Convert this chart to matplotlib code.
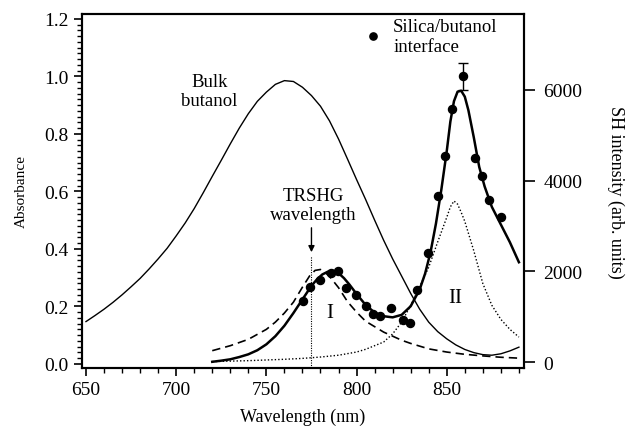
import numpy as np
import matplotlib
matplotlib.use("Agg")
import matplotlib.pyplot as plt
from matplotlib.ticker import MultipleLocator

plt.rcParams['font.family'] = ['Liberation Serif', 'DejaVu Serif']

# bulk butanol absorbance (left axis)
bulk_wl = [650, 655, 660, 665, 670, 675, 680, 685, 690, 695, 700, 705, 710, 715, 720,
           725, 730, 735, 740, 745, 750, 755, 760, 765, 770, 775, 780, 785, 790, 795,
           800, 805, 810, 815, 820, 825, 830, 835, 840, 845, 850, 855, 860, 865, 870,
           875, 880, 885, 890]
bulk_abs = [0.147, 0.168, 0.19, 0.214, 0.24, 0.268, 0.297, 0.33, 0.365, 0.402, 0.445,
            0.49, 0.54, 0.595, 0.652, 0.708, 0.765, 0.82, 0.87, 0.913, 0.945, 0.972,
            0.985, 0.982, 0.962, 0.933, 0.896, 0.845, 0.782, 0.712, 0.641, 0.572, 0.50,
            0.43, 0.365, 0.305, 0.245, 0.19, 0.145, 0.112, 0.087, 0.066, 0.05, 0.039,
            0.032, 0.03, 0.035, 0.045, 0.058]

# SH data points (right axis)
sh_wl = [770.3, 774.3, 779.8, 786.0, 789.7, 794.0, 799.5, 805.4, 809.3, 813.0, 818.9,
         825.5, 829.6, 833.3, 839.4, 845.0, 849.2, 852.7, 859.2, 865.6, 869.7, 873.6,
         879.9]
sh_val = [1340, 1660, 1810, 1970, 2010, 1630, 1480, 1235, 1058, 1021, 1183, 933, 860,
          1595, 2403, 3668, 4550, 5579, 6300, 4492, 4109, 3572, 3190]
err_wl = [859.2]
err_val = [6300]
err_size = [295]

# total fit
fit_wl = [720, 725, 730, 735, 740, 745, 750, 755, 760, 765, 770, 775, 778, 781, 784,
          787, 790, 793, 796, 800, 805, 810, 815, 820, 825, 830, 835, 838, 841, 844,
          847, 850, 852, 854, 856, 858, 860, 862, 865, 868, 871, 875, 880, 885, 890]
fit_val = [5, 30, 60, 110, 170, 260, 390, 570, 800, 1080, 1380, 1680, 1820, 1930,
           1990, 2010, 1960, 1850, 1710, 1500, 1260, 1090, 1010, 985, 1040, 1230, 1600,
           1950, 2420, 3050, 3800, 4650, 5300, 5750, 5960, 5980, 5850, 5550, 4950,
           4300, 3870, 3420, 3030, 2640, 2200]

# component I (dashed)
c1_wl = [720, 730, 740, 750, 755, 760, 765, 770, 774, 777, 780, 783, 786, 790, 795,
         800, 805, 810, 815, 820, 825, 830, 840, 850, 860, 870, 880, 890]
c1_val = [250, 360, 500, 720, 880, 1080, 1320, 1650, 1900, 2020, 2040, 1960, 1840,
          1640, 1330, 1100, 900, 780, 660, 570, 480, 410, 290, 220, 170, 135, 105, 85]

# component II (dotted)
c2_wl = [720, 730, 740, 750, 760, 770, 775, 780, 790, 800, 805, 810, 815, 820, 825,
         830, 835, 840, 845, 850, 852, 854, 856, 858, 860, 865, 870, 875, 880, 885,
         890]
c2_val = [10, 20, 30, 45, 60, 80, 95, 110, 150, 220, 280, 360, 440, 620, 880, 1250,
          1660, 2090, 2650, 3190, 3420, 3550, 3480, 3300, 3100, 2450, 1730, 1250, 940,
          720, 550]

trshg = 775

fig = plt.figure(figsize=(6.26, 4.35), dpi=100)
ax = fig.add_axes([0.131, 0.1517, 0.706, 0.814])
ax2 = ax.twinx()

ax.plot(bulk_wl, bulk_abs, color="black", linewidth=1.0)
ax2.plot(fit_wl, fit_val, color="black", linewidth=1.8)
ax2.plot(c1_wl, c1_val, color="black", linewidth=1.2, linestyle=(0, (5, 3)))
ax2.plot(c2_wl, c2_val, color="black", linewidth=1.0, linestyle=(0, (1, 1.5)))
pts, = ax2.plot(sh_wl, sh_val, "o", color="black", markersize=5.8,
                label="Silica/butanol\ninterface")
ax2.errorbar(err_wl, err_val, yerr=err_size, fmt="none", ecolor="black",
             elinewidth=1.0, capsize=3.5, capthick=1.0)

# TRSHG marker
ax2.plot([trshg, trshg], [-132, 2330], color="black", linewidth=0.8,
         linestyle=(0, (1, 1.2)))
ax2.annotate("", xy=(trshg, 2360), xytext=(trshg, 3020),
             arrowprops=dict(arrowstyle="-|>", color="black", lw=1.0,
                             mutation_scale=9))

ax.text(718.5, 0.95, "Bulk\nbutanol", ha="center", va="center", fontsize=13.5,
        linespacing=1.15)
ax.text(776, 0.553, "TRSHG\nwavelength", ha="center", va="center", fontsize=13.5,
        linespacing=1.15)
ax.text(785, 0.18, "I", ha="center", va="center", fontsize=15)
ax.text(854.5, 0.232, "II", ha="center", va="center", fontsize=15)

leg = ax2.legend(handles=[pts], loc="upper left", bbox_to_anchor=(0.615, 1.02),
                 frameon=False, fontsize=13.5, handlelength=0.8, handletextpad=0.7,
                 borderaxespad=0.2, markerscale=0.9)
for t in leg.get_texts():
    t.set_linespacing(1.2)

ax.set_xlim(647.8, 892.8)
ax.set_ylim(-0.0145, 1.217)
ax2.set_ylim(-132, 7674)

ax.xaxis.set_major_locator(MultipleLocator(50))
ax.xaxis.set_minor_locator(MultipleLocator(10))
ax.yaxis.set_major_locator(MultipleLocator(0.2))
ax.yaxis.set_minor_locator(MultipleLocator(0.02))
ax.yaxis.set_major_formatter(plt.FormatStrFormatter("%.1f"))
ax2.set_yticks([0, 2000, 4000, 6000])

ax.tick_params(axis="both", which="major", direction="out", length=6, width=1.2,
               labelsize=14)
ax.tick_params(axis="both", which="minor", direction="out", length=3.5, width=1.0)
ax2.tick_params(axis="y", which="major", direction="out", length=8, width=1.2,
                labelsize=14, pad=6)

for a in (ax, ax2):
    for s in a.spines.values():
        s.set_linewidth(1.5)

ax.set_xlabel("Wavelength (nm)", fontsize=13, labelpad=7)
ax.set_ylabel("Absorbance", fontsize=11, labelpad=12)
ax2.set_ylabel("SH intensity (arb. units)", fontsize=13, rotation=270,
               labelpad=30)

fig.savefig("out.png", dpi=100)
